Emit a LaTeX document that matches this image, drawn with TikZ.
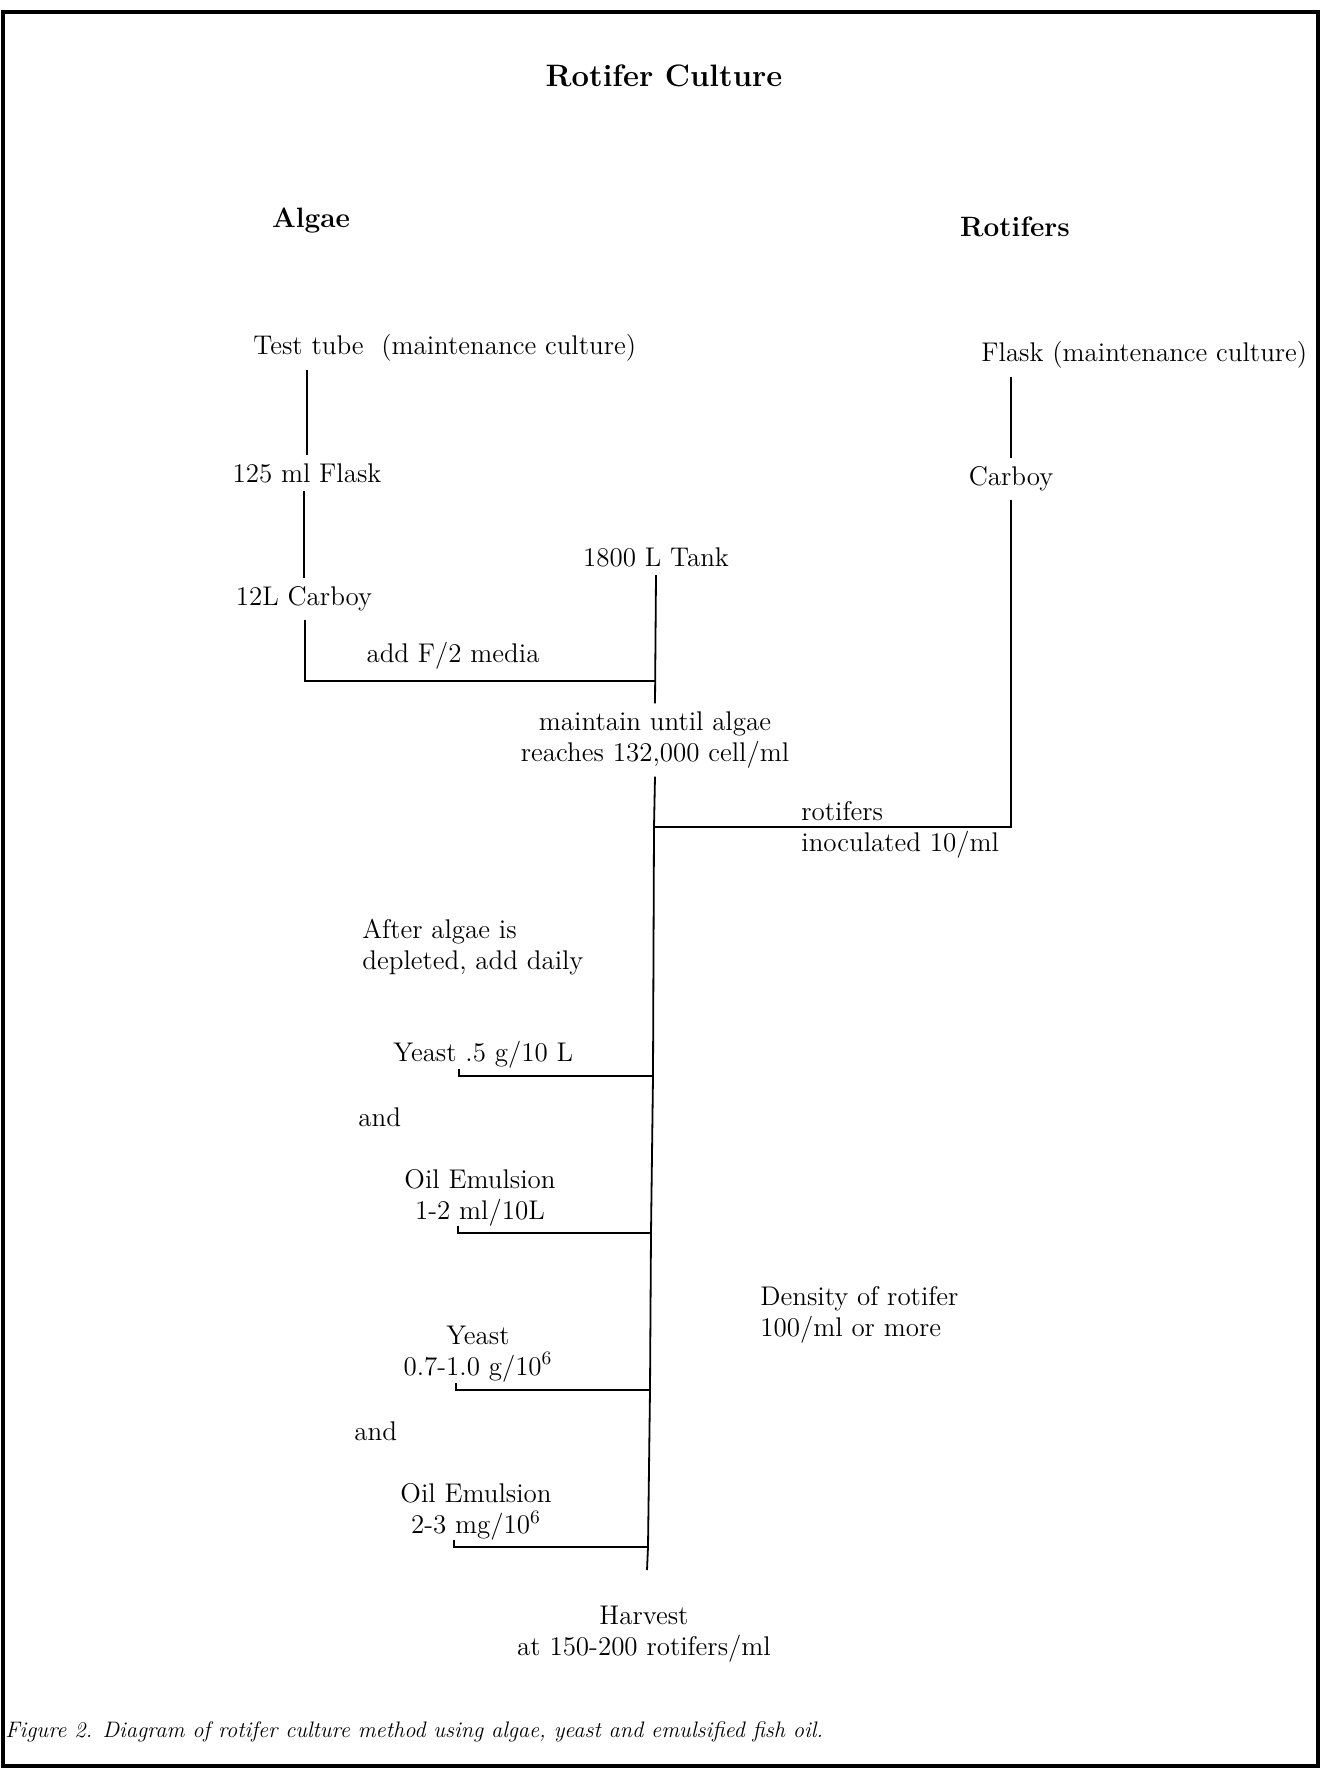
\documentclass[tikz,border=0pt]{standalone}
\usetikzlibrary{positioning}

\begin{document}
\begin{tikzpicture}[x=0.5pt,y=-0.5pt,
    every node/.style={font=\fontsize{13.5}{15.5}\selectfont, inner sep=4pt},
    head/.style={font=\fontsize{14}{17}\selectfont\bfseries},
    link/.style={line width=0.9pt}]
        \useasboundingbox (0,0) rectangle (1323,1771);
        \draw[line width=1.6pt] (3,12) rectangle (1318,1766);
        \node[head, font=\fontsize{15.5}{18}\selectfont\bfseries] (title) at (664,76) {Rotifer Culture};
        \node[head] (algae) at (311,221) {Algae};
        \node[head] (rotifers) at (1015,227) {Rotifers};

        % algae side
        \node[anchor=west] (tube) at (245,348) {Test tube\ \ (maintenance culture)};
        \node (flask) at (307,473) {125 ml Flask};
        \node (carboy) at (304,599) {12L Carboy};
        \node (media) at (453,656) {add F/2 media};
        \node (tank) at (656,557) {1800 L Tank};
        \node[align=center] (maintain) at (655,740) {maintain until algae\\reaches 132,000 cell/ml};
        \coordinate (j1) at (305,681);
        \coordinate (j2) at (655,681);
        \draw[link] (tube.south -| flask) -- (flask.north);
        \draw[link] (flask.south -| carboy) -- (carboy.north);
        \draw[link] (carboy.south -| j1) -- (j1) -- (j2);
        \draw[link] (tank.south) -- (maintain.north);

        % rotifer side
        \node[anchor=west] (rflask) at (973,355) {Flask (maintenance culture)};
        \node (rcarboy) at (1011,479) {Carboy};
        \node[anchor=west, align=left] (inoc) at (793,830) {rotifers\\inoculated 10/ml};
        \coordinate (j3) at (654,827);
        \coordinate (j4) at (1011,827);
        \draw[link] (rflask.south -| rcarboy) -- (rcarboy.north);
        \draw[link] (rcarboy.south) -- (j4) -- (j3);

        % feeding
        \node[anchor=west, align=left] (after) at (354,947) {After algae is\\depleted, add daily};
        \node[anchor=west] (yeast1) at (385,1055) {Yeast .5 g/10 L};
        \node[anchor=west] (and1) at (350,1117) {and};
        \node[align=center] (oil1) at (480,1198) {Oil Emulsion\\1-2 ml/10L};
        \node[align=center] (yeast2) at (478,1354) {Yeast\\0.7-1.0 g/10\textsuperscript{6}};
        \node[anchor=west] (and2) at (346,1431) {and};
        \node[align=center] (oil2) at (476,1512) {Oil Emulsion\\2-3 mg/10\textsuperscript{6}};
        \node (density) [anchor=west, align=left] at (752,1315) {Density of rotifer\\100/ml or more};
        \node[align=center] (harvest) at (644,1634) {Harvest\\at 150-200 rotifers/ml};
        \coordinate (f1) at (653,1076);
        \coordinate (f2) at (651,1233);
        \coordinate (f3) at (650,1390);
        \coordinate (f4) at (648,1547);
        \coordinate (bot) at (647,1570);
        \draw[link] (maintain.south) -- (j3) -- (f1) -- (f2) -- (f3) -- (f4) -- (bot);
        \draw[link] (459,1069) -- (459,1076) -- (f1);
        \draw[link] (458,1226) -- (458,1233) -- (f2);
        \draw[link] (456,1383) -- (456,1390) -- (f3);
        \draw[link] (454,1540) -- (454,1547) -- (f4);

        \node[anchor=west, font=\fontsize{11.2}{13}\selectfont\itshape] (caption) at (-3,1732)
          {Figure 2. Diagram of rotifer culture method using algae, yeast and emulsified fish oil.};
      \end{tikzpicture}
\end{document}
